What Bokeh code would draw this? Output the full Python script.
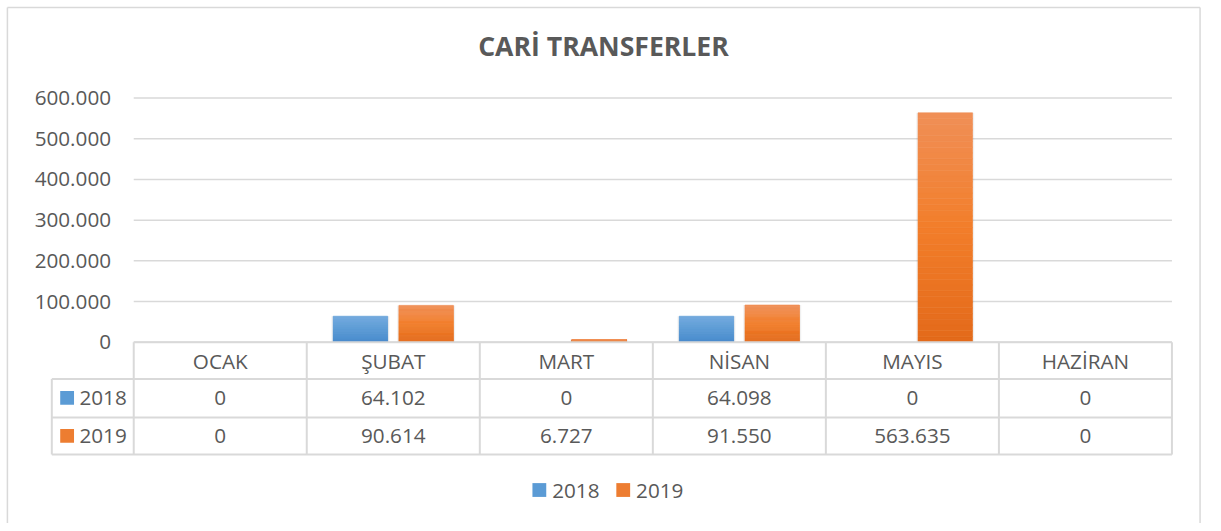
from bokeh.plotting import figure
from bokeh.models import Range1d
from bokeh.core.properties import value
from bokeh.embed import file_html
from bokeh.resources import INLINE

# ---------------- data ----------------
months = ["OCAK", "ŞUBAT", "MART", "NİSAN", "MAYIS", "HAZİRAN"]
series_names = ["2018", "2019"]
values_2018 = [0, 64102, 0, 64098, 0, 0]
values_2019 = [0, 90614, 6727, 91550, 563635, 0]
y_ticks = [0, 100000, 200000, 300000, 400000, 500000, 600000]
title_text = "CARİ TRANSFERLER"

# ---------------- layout (positions in reference-image pixels) ----------------
W, H = 1205, 523
REF_W, REF_H = 1221, 531
PLOT_L, PLOT_R = 135, 1187
Y_TOP_PX, Y_ZERO_PX = 99, 347
Y_MAX = 600000
CW = (PLOT_R - PLOT_L) / len(months)
SC = W / REF_W


def xd(px):
    return (px - PLOT_L) / CW - 0.5


def yd(py):
    return (Y_ZERO_PX - py) * Y_MAX / (Y_ZERO_PX - Y_TOP_PX)


def fmt(v):
    return f"{v:,}".replace(",", ".")


def fs(px):
    return f"{px * SC:.1f}px"


FONT = value("Open Sans")
TXT = "#595959"
GRID = "#d9d9d9"
FS = fs(21)

p = figure(width=W, height=H, x_range=Range1d(xd(0), xd(REF_W)),
           y_range=Range1d(yd(REF_H), yd(0)),
           x_axis_type=None, y_axis_type=None, min_border=0,
           toolbar_location=None, output_backend="svg")
p.grid.visible = False
p.outline_line_color = None
p.background_fill_color = "white"
p.border_fill_color = "white"

# chart border (left, top, right)
p.segment(x0=[xd(7), xd(7), xd(1215.5)], x1=[xd(1215.5), xd(7), xd(1215.5)],
          y0=[yd(7), yd(7), yd(7)], y1=[yd(7), yd(REF_H + 5), yd(REF_H + 5)],
          line_color=GRID, line_width=1.5)

# title
p.text(x=[xd(611)], y=[yd(46)], text=[title_text], text_font=FONT,
       text_font_size=fs(27), text_font_style="bold", text_color=TXT,
       text_align="center", text_baseline="middle")

# gridlines
p.segment(x0=[xd(PLOT_L)] * len(y_ticks), x1=[xd(PLOT_R)] * len(y_ticks),
          y0=y_ticks, y1=y_ticks, line_color=GRID, line_width=1.5)

# y tick labels
p.text(x=[xd(112)] * len(y_ticks), y=y_ticks, text=[fmt(t) for t in y_ticks],
       text_font=FONT, text_font_size=FS, text_color=TXT,
       text_align="right", text_baseline="middle")


# bars with vertical gradient
def hex2rgb(h):
    h = h.lstrip("#")
    return tuple(int(h[i:i + 2], 16) for i in (0, 2, 4))


def grad_color(stops, t):
    # stops: list of (pos, hex) ; t=0 top, t=1 bottom
    for (p0, c0), (p1, c1) in zip(stops, stops[1:]):
        if p0 <= t <= p1:
            f = (t - p0) / (p1 - p0)
            a, b = hex2rgb(c0), hex2rgb(c1)
            return "#%02x%02x%02x" % tuple(round(a[i] + (b[i] - a[i]) * f) for i in range(3))
    return stops[-1][1]


blue_stops = [(0.0, "#72a9de"), (0.5, "#5b9bd5"), (1.0, "#4589cd")]
orange_stops = [(0.0, "#f08f57"), (0.5, "#f27e2a"), (1.0, "#e3691a")]
BAR_W = 0.315
OFF = 0.19
NSL = 40

for vals, stops, off in ((values_2018, blue_stops, -OFF), (values_2019, orange_stops, OFF)):
    L, R, B, T, C = [], [], [], [], []
    for i, v in enumerate(vals):
        if v <= 0:
            continue
        for k in range(NSL):
            t = 1 - (k + 0.5) / NSL
            L.append(i + off - BAR_W / 2)
            R.append(i + off + BAR_W / 2)
            B.append(v * k / NSL)
            T.append(v * (k + 1) / NSL)
            C.append(grad_color(stops, t))
    sh_x = [i + off for i, v in enumerate(vals) if v > 0]
    sh_top = [v for v in vals if v > 0]
    p.vbar(x=sh_x, top=sh_top, bottom=0, width=BAR_W + 0.02, fill_color="#000000",
           fill_alpha=0.06, line_color=None)
    p.quad(left=L, right=R, bottom=B, top=T, fill_color=C, line_color=C, line_width=0.6)

# ---------------- data table ----------------
row_lines_px = [384.3, 423.3, 461]
TABLE_L = 52
p.segment(x0=[xd(PLOT_L)], x1=[xd(PLOT_R)], y0=[0], y1=[0], line_color=GRID, line_width=2)
p.segment(x0=[xd(TABLE_L)] * 3, x1=[xd(PLOT_R)] * 3,
          y0=[yd(r) for r in row_lines_px], y1=[yd(r) for r in row_lines_px],
          line_color=GRID, line_width=2)
col_edges = [k - 0.5 for k in range(len(months) + 1)]
p.segment(x0=col_edges, x1=col_edges, y0=[0] * len(col_edges),
          y1=[yd(461)] * len(col_edges), line_color=GRID, line_width=2)
p.segment(x0=[xd(TABLE_L)], x1=[xd(TABLE_L)], y0=[yd(384.3)], y1=[yd(461)],
          line_color=GRID, line_width=2)

idx = list(range(len(months)))
p.text(x=idx, y=[yd(366)] * len(months), text=months, text_font=FONT,
       text_font_size=FS, text_color=TXT, text_align="center", text_baseline="middle")
p.text(x=idx, y=[yd(404)] * len(months), text=[fmt(v) for v in values_2018],
       text_font=FONT, text_font_size=FS, text_color=TXT, text_align="center",
       text_baseline="middle")
p.text(x=idx, y=[yd(442.5)] * len(months), text=[fmt(v) for v in values_2019],
       text_font=FONT, text_font_size=FS, text_color=TXT, text_align="center",
       text_baseline="middle")

key_colors = ["#5b9bd5", "#ed7d31"]
p.scatter(x=[xd(67.5)] * 2, y=[yd(403.5), yd(442)], marker="square", size=14 * SC,
          fill_color=key_colors, line_color=None)
p.text(x=[xd(80)] * 2, y=[yd(404), yd(442.5)], text=series_names, text_font=FONT,
       text_font_size=FS, text_color=TXT, text_align="left", text_baseline="middle")

# ---------------- legend ----------------
p.scatter(x=[xd(546), xd(631)], y=[yd(497)] * 2, marker="square", size=14 * SC,
          fill_color=key_colors, line_color=None)
p.text(x=[xd(559), xd(644)], y=[yd(497.5)] * 2, text=series_names, text_font=FONT,
       text_font_size=FS, text_color=TXT, text_align="left", text_baseline="middle")

open("out.html", "w").write(file_html(p, INLINE))
